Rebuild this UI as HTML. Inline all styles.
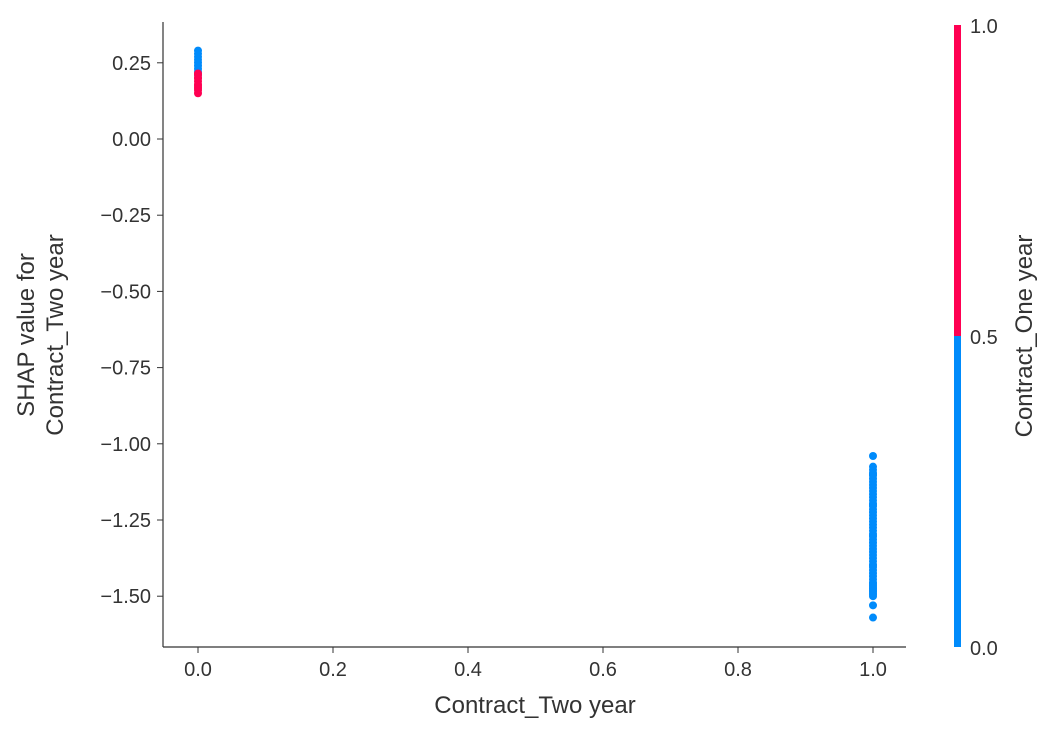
<!DOCTYPE html>
<html><head><meta charset="utf-8"><style>
body{margin:0;background:#fff;}
svg text{font-family:"Liberation Sans","DejaVu Sans",sans-serif;fill:#333;}
</style></head><body>
<svg id="chart" width="1054" height="734" xmlns="http://www.w3.org/2000/svg">
<g id="plot"></g>
<g id="axes"></g>
<text x="535" y="713" font-size="24" text-anchor="middle">Contract_Two year</text>
<text transform="translate(34,335) rotate(-90)" font-size="24" text-anchor="middle">SHAP value for</text>
<text transform="translate(63,335) rotate(-90)" font-size="24" text-anchor="middle">Contract_Two year</text>
<g id="cbar">
<rect x="954" y="25" width="7" height="311" fill="#ff0052"/>
<rect x="954" y="336" width="7" height="311" fill="#008bfb"/>
<text x="970" y="33" font-size="20" fill="#000">1.0</text>
<text x="970" y="344" font-size="20">0.5</text>
<text x="970" y="655" font-size="20">0.0</text>
<text transform="translate(1032,336) rotate(-90)" font-size="24" text-anchor="middle">Contract_One year</text>
</g>
</svg>
<script>
const xTicks=[0.0,0.2,0.4,0.6,0.8,1.0];
const yTicks=[0.25,0.00,-0.25,-0.50,-0.75,-1.00,-1.25,-1.50];
const ptsX=[0,0,0,0,0,0,0,0,0,0,0,0,0,0,0,0,0,0,0,0,
1,1,1,1,1,1,1,1,1,1,1,1,1,1,1,1,1,1,1,1,1,1,1,1,1,1,1,1,1,1,1,1,1,1,1,1,1,1,1,1,1,1,1,1,1,1,1,1,1,1,1,1,1,1,1];
const ptsY=[0.29,0.28,0.27,0.26,0.25,0.24,0.23,0.22,0.21,0.215,0.21,0.20,0.19,0.18,0.17,0.16,0.15,0.2,0.175,0.165,
-1.04,-1.075,-1.085,-1.095,-1.105,-1.115,-1.125,-1.135,-1.145,-1.155,-1.165,-1.175,-1.185,-1.195,-1.205,-1.215,-1.225,-1.235,-1.245,-1.255,-1.265,-1.275,-1.285,-1.295,-1.305,-1.315,-1.325,-1.335,-1.345,-1.355,-1.365,-1.375,-1.385,-1.395,-1.405,-1.415,-1.425,-1.435,-1.445,-1.455,-1.465,-1.47,-1.48,-1.49,-1.50,-1.53,-1.57,-1.10,-1.2,-1.3,-1.4,-1.46,-1.475,-1.485,-1.495];
const ptsC=[0,0,0,0,0,0,0,0,0,1,1,1,1,1,1,1,1,1,1,1];
const NS="http://www.w3.org/2000/svg";
const X=v=>198+v*675, Y=v=>139-v*304.8;
const ax=document.getElementById('axes'), pl=document.getElementById('plot');
function mk(t,a,p){const e=document.createElementNS(NS,t);for(const k in a)e.setAttribute(k,a[k]);p.appendChild(e);return e;}
let l=mk('line',{x1:163,y1:22,x2:163,y2:647,stroke:'#333','stroke-width':1.2},ax);


l=mk('line',{x1:163,y1:647,x2:906,y2:647,stroke:'#333','stroke-width':1.2},ax);


xTicks.forEach(v=>{const x=X(v);
 mk('line',{x1:x,y1:647,x2:x,y2:653,stroke:'#333'},ax);
 const t=mk('text',{x:x,y:676,'font-size':20,'text-anchor':'middle'},ax);t.textContent=v.toFixed(1);
 
 });
yTicks.forEach(v=>{const y=Y(v);
 mk('line',{x1:157,y1:y,x2:163,y2:y,stroke:'#333'},ax);
 const t=mk('text',{x:151,y:y+7,'font-size':20,'text-anchor':'end'},ax);t.textContent=v.toFixed(2).replace('-','\u2212');
 
 });
ptsX.forEach((v,i)=>{const c=mk('circle',{cx:X(v),cy:Y(ptsY[i]),r:4,fill:ptsC[i]?'#ff0052':'#008bfb'},pl);
 
 });
</script>
</body></html>
